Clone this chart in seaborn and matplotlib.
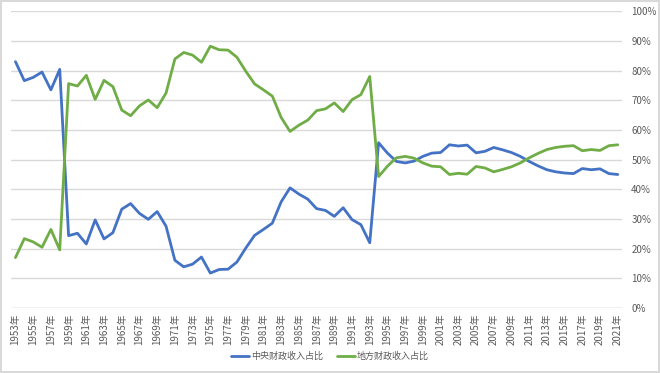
import pandas as pd
import seaborn as sns
import matplotlib.pyplot as plt
import matplotlib.ticker as ticker

# 年份与中央财政收入占比（%），地方 = 100 - 中央
years = list(range(1953, 2022))
central = [83.0, 76.6, 77.7, 79.5, 73.5, 80.4, 24.4, 25.2, 21.6, 29.7,
           23.3, 25.4, 33.3, 35.2, 31.9, 29.9, 32.5, 27.6, 16.1, 13.9,
           14.8, 17.2, 11.8, 13.0, 13.1, 15.5, 20.2, 24.5, 26.5, 28.6,
           35.8, 40.5, 38.4, 36.7, 33.5, 32.9, 30.9, 33.8, 29.8, 28.1,
           22.0, 55.7, 52.2, 49.4, 48.9, 49.5, 51.1, 52.2, 52.4, 55.0,
           54.6, 54.9, 52.3, 52.8, 54.1, 53.3, 52.4, 51.1, 49.4, 47.9,
           46.6, 45.9, 45.5, 45.3, 47.0, 46.6, 46.9, 45.3, 45.0]
local = [round(100 - v, 1) for v in central]
series_names = ['中央财政收入占比', '地方财政收入占比']
colors = ['#4472C4', '#70AD47']

df = pd.DataFrame({'年份': years, series_names[0]: central, series_names[1]: local})
long_df = df.melt(id_vars='年份', var_name='类别', value_name='占比')

sns.set_style('white')
plt.rcParams['font.family'] = ['Noto Sans CJK SC', 'DejaVu Sans']

fig = plt.figure(figsize=(6.6, 3.73), dpi=100)
fig.patch.set_edgecolor('#D9D9D9')
fig.patch.set_linewidth(1.5)
ax = fig.add_axes([0.0167, 0.174, 0.926, 0.796])

sns.lineplot(data=long_df, x='年份', y='占比', hue='类别', hue_order=series_names,
             palette=colors, linewidth=2, ax=ax, legend=False)

ax.set_xlim(1952.5, 2021.5)
ax.set_ylim(0, 100)
ax.set_xticks(years[::2])
ax.set_xticklabels([f'{y}年' for y in years[::2]], rotation=90, fontsize=7, color='#595959')
ax.yaxis.set_major_locator(ticker.MultipleLocator(10))
ax.yaxis.set_major_formatter(ticker.FuncFormatter(lambda v, p: f'{int(v)}%'))
ax.yaxis.tick_right()
ax.tick_params(axis='y', labelsize=7, colors='#595959', length=0, pad=6.5)
ax.tick_params(axis='x', length=0, pad=4)
ax.grid(axis='y', color='#D9D9D9', linewidth=1)
ax.set_axisbelow(True)
for s in ax.spines.values():
    s.set_visible(False)
ax.axhline(0, color='#D9D9D9', linewidth=1, zorder=0)
ax.set_xlabel('')
ax.set_ylabel('')

handles = [plt.Line2D([], [], color=c, linewidth=2) for c in colors]
fig.legend(handles, series_names, loc='center', bbox_to_anchor=(0.5, 0.045), ncol=2,
           frameon=False, fontsize=6.5, handlelength=2.0, handletextpad=0.15,
           columnspacing=1.6, labelcolor='#595959')

fig.savefig('out.png', dpi=100, edgecolor=fig.get_edgecolor())
